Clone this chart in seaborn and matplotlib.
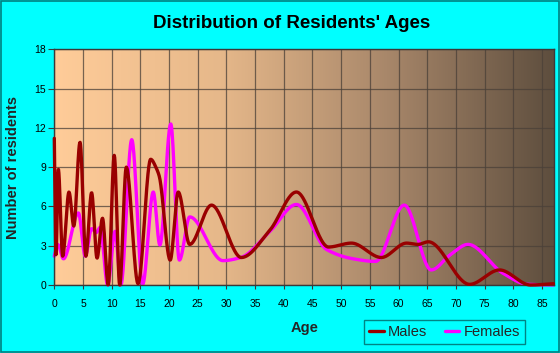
import numpy as np
import pandas as pd
import matplotlib
matplotlib.use("Agg")
import matplotlib.pyplot as plt
import seaborn as sns
from matplotlib.colors import LinearSegmentedColormap
from matplotlib.patches import Rectangle

## Values (age, number of residents) at the turning points
male_age = [0, 0.3, 0.7, 1.46, 2.56, 3.4, 4.48, 5.5, 6.5, 7.45, 8.4, 9.4, 10.45, 11.4,
            12.55, 14.6, 16.8, 17.8, 18.3, 20.2, 21.6, 23.6, 27.4, 32.6, 37.6, 42.2,
            47.8, 51.8, 57.0, 61.4, 63.4, 65.2, 72.4, 77.6, 83.0, 87.0]
male_count = [11.2, 2.3, 8.85, 2.2, 7.1, 4.5, 10.9, 2.2, 7.05, 2.05, 5.1, 0.0, 9.9, 0.0,
              9.0, 0.1, 9.6, 8.9, 8.3, 1.9, 7.1, 3.1, 6.1, 2.1, 4.2, 7.1,
              2.9, 3.2, 2.1, 3.2, 3.1, 3.3, 0.05, 1.15, 0.0, 0.1]

female_age = [0, 0.6, 1.6, 4.2, 5.4, 6.5, 7.3, 8.0, 9.3, 10.6, 11.6, 13.5, 15.4, 17.25,
              18.4, 20.3, 21.8, 23.6, 29.4, 32.5, 37.6, 42.2, 47.5, 52.1, 56.0, 61.0,
              65.7, 69.0, 72.1, 78.2, 82.5, 87.0]
female_count = [2.2, 3.1, 2.0, 5.5, 2.2, 4.3, 4.0, 4.4, 0.0, 4.1, 0.0, 11.1, 0.05, 7.1,
                3.05, 12.3, 1.9, 5.2, 1.86, 2.1, 4.1, 6.15, 2.7, 2.0, 1.8, 6.1,
                1.15, 2.3, 3.1, 0.9, 0.05, 0.0]

x_ticks = list(range(0, 90, 5))
y_ticks = list(range(0, 19, 3))


# smooth line through the points (monotone cubic, like the chart's smoothed lines)
def smooth(x, y, n=1200):
    x = np.asarray(x, float)
    y = np.asarray(y, float)
    h = np.diff(x)
    d = np.diff(y) / h
    m = np.zeros_like(y)
    for k in range(1, len(x) - 1):
        if d[k - 1] * d[k] > 0:
            w1 = 2 * h[k] + h[k - 1]
            w2 = h[k] + 2 * h[k - 1]
            m[k] = (w1 + w2) / (w1 / d[k - 1] + w2 / d[k])
    m[0], m[-1] = d[0], d[-1]
    xs = np.linspace(x[0], x[-1], n)
    i = np.clip(np.searchsorted(x, xs) - 1, 0, len(h) - 1)
    t = (xs - x[i]) / h[i]
    ys = ((2 * t**3 - 3 * t**2 + 1) * y[i] + (t**3 - 2 * t**2 + t) * h[i] * m[i]
          + (-2 * t**3 + 3 * t**2) * y[i + 1] + (t**3 - t**2) * h[i] * m[i + 1])
    return xs, ys


mx, my = smooth(male_age, male_count)
fx, fy = smooth(female_age, female_count)
df_m = pd.DataFrame({"Age": mx, "Residents": my})
df_f = pd.DataFrame({"Age": fx, "Residents": fy})

## Figure
sns.set_style("white")
plt.rcParams["font.family"] = ["Liberation Sans", "DejaVu Sans"]

fig = plt.figure(figsize=(5.6, 3.53), dpi=100, facecolor="#00FFFF")
ax = fig.add_axes([54.3 / 560, 1 - 285 / 353, (554 - 54.3) / 560, (285 - 49.3) / 353])
fig.patches.append(Rectangle((0.001, 0.002), 0.997, 0.995, transform=fig.transFigure,
                             fill=False, edgecolor="#008080", linewidth=1.2))

# gradient background
cmap = LinearSegmentedColormap.from_list("bg", ["#FFCC99", "#E6B88A", "#A8876A", "#5E4E3E"])
ax.imshow(np.linspace(0, 1, 256).reshape(1, -1), cmap=cmap, extent=[0, 87.1, 0, 18],
          aspect="auto", zorder=0)

sns.lineplot(data=df_f, x="Age", y="Residents", color="#FF00FF", linewidth=2.4,
             sort=False, ax=ax, zorder=3, clip_on=False)
sns.lineplot(data=df_m, x="Age", y="Residents", color="#990000", linewidth=2.4,
             sort=False, ax=ax, zorder=6, clip_on=False)

ax.set_xlim(0, 87.1)
ax.set_ylim(0, 18)
ax.set_xticks(x_ticks)
ax.set_xticks(range(0, 88), minor=True)
ax.set_yticks(y_ticks)
ax.grid(True, which="major", color="#4a4038", alpha=0.75, linewidth=0.9)
ax.set_axisbelow(False)
for s in ax.spines.values():
    s.set_color("#3a3a3a")
    s.set_linewidth(1)
    s.set_zorder(5)
ax.tick_params(axis="both", which="both", direction="out", colors="#3a3a3a",
               labelcolor="black", labelsize=7.5, width=0.8)
ax.tick_params(axis="x", which="major", length=3, pad=7)
ax.tick_params(axis="x", which="minor", length=3)
ax.tick_params(axis="y", which="major", length=4, pad=2)
ax.tick_params(left=True, bottom=True)

ax.set_xlabel("Age", fontsize=10.5, fontweight="bold", labelpad=9)
ax.set_ylabel("Number of residents", fontsize=10.5, fontweight="bold", labelpad=10)
fig.suptitle("Distribution of Residents' Ages", x=292 / 560, y=1 - 23 / 353,
             fontsize=13.5, fontweight="bold", va="center", color="black")

h_m = plt.Line2D([], [], color="#990000", linewidth=2.4)
h_f = plt.Line2D([], [], color="#FF00FF", linewidth=2.4)
leg = fig.legend([h_m, h_f], ["Males", "Females"], loc="center", ncol=2,
                 bbox_to_anchor=(444.5 / 560, 1 - 332 / 353), fontsize=10.5,
                 frameon=True, fancybox=False, handlelength=1.0, handletextpad=0.3,
                 columnspacing=1.2, borderpad=0.35)
leg.get_frame().set_edgecolor("#006666")
leg.get_frame().set_facecolor("none")
leg.get_frame().set_linewidth(1)

fig.savefig("out.png", dpi=100, facecolor=fig.get_facecolor())
